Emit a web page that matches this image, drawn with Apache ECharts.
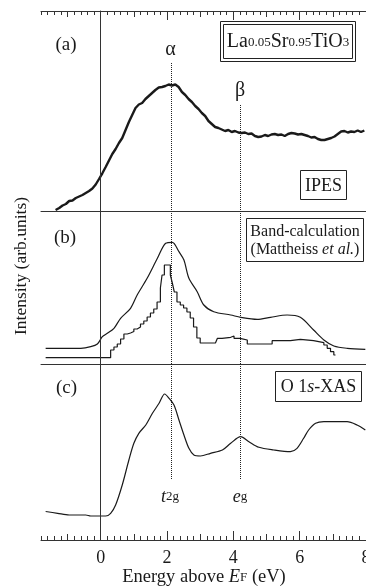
<!DOCTYPE html>
<html>
<head>
<meta charset="utf-8">
<script src="https://cdn.jsdelivr.net/npm/echarts@6/dist/echarts.min.js"></script>
<style>
  html, body { margin: 0; padding: 0; background: #fff; }
  #chart { width: 366px; height: 588px; }
</style>
</head>
<body>
<div id="chart"></div>
<script>
// energy (eV), intensity (arb.)
const ipes = [
  [-1.36, 1], [-1.25, 3], [-1.15, 5.5], [-1.05, 7], [-0.95, 10], [-0.85, 10.5], [-0.75, 13],
  [-0.65, 14.5], [-0.55, 16], [-0.45, 18], [-0.35, 20], [-0.25, 22.5], [-0.15, 26.5], [-0.05, 32],
  [0.05, 37.7], [0.15, 44], [0.25, 50.5], [0.35, 57], [0.45, 62], [0.55, 68], [0.65, 73],
  [0.75, 81], [0.85, 89], [0.95, 96], [1.05, 103], [1.15, 106.5], [1.25, 108], [1.35, 112],
  [1.45, 115], [1.55, 118], [1.65, 121], [1.75, 123.5], [1.85, 124], [1.95, 125], [2.05, 126.5],
  [2.15, 125.5], [2.25, 126.5], [2.35, 124], [2.45, 119], [2.55, 116], [2.65, 112], [2.75, 109],
  [2.85, 105], [2.95, 102], [3.05, 98], [3.15, 95], [3.25, 90], [3.35, 87], [3.45, 84],
  [3.55, 83], [3.65, 81.5], [3.75, 80], [3.85, 81], [3.95, 79], [4.05, 80], [4.15, 78.5],
  [4.25, 78], [4.35, 78.5], [4.45, 77], [4.55, 77.5], [4.65, 75], [4.75, 74], [4.85, 74.5],
  [4.95, 76], [5.05, 75], [5.15, 76.5], [5.25, 77], [5.35, 76], [5.45, 76.5], [5.55, 75],
  [5.65, 77], [5.75, 78], [5.85, 77.5], [5.95, 76.5], [6.05, 77], [6.15, 76], [6.25, 75],
  [6.35, 73.5], [6.45, 74], [6.55, 72], [6.65, 71], [6.75, 71], [6.85, 72], [6.95, 73],
  [7.05, 74.5], [7.15, 77], [7.25, 79.5], [7.35, 80], [7.45, 78.5], [7.55, 79.5], [7.65, 79],
  [7.75, 80.5], [7.85, 79], [7.95, 80.5]
];

const bandSmooth = [
  [-1.66, 15.7], [-0.6, 15.7], [-0.3, 17.3], [-0.1, 20], [0.05, 27.3], [0.2, 30.7], [0.4, 35.7],
  [0.6, 45.7], [0.9, 55.7], [1.1, 69], [1.4, 85.7], [1.71, 105.7], [1.96, 120.7], [2.16, 121.7],
  [2.36, 112.3], [2.51, 104], [2.66, 85.7], [2.91, 72.3], [3.11, 59], [3.41, 52.3], [3.92, 49],
  [4.22, 46.7], [4.72, 44.7], [5.12, 46.7], [5.62, 49], [6.02, 46.7], [6.42, 34], [6.73, 24],
  [7.03, 18], [7.43, 15.7], [7.98, 14.7]
];

// histogram: [left edge of bin, level]
const bandStep = [
  [-1.66, 6.3], [0.30, 14], [0.40, 17], [0.50, 20], [0.60, 25], [0.70, 30], [0.80, 31],
  [0.90, 32.5], [1.00, 35], [1.10, 37], [1.20, 40], [1.30, 43], [1.40, 47], [1.50, 51],
  [1.60, 55], [1.70, 62], [1.80, 76], [1.85, 89], [1.92, 99], [2.10, 89], [2.16, 81],
  [2.22, 72], [2.30, 62], [2.40, 59], [2.50, 56], [2.60, 52], [2.70, 46], [2.80, 37],
  [2.90, 26], [3.00, 21], [3.46, 23], [3.52, 25.7], [3.66, 26.7], [3.92, 28], [4.02, 25.7],
  [4.20, 24], [4.42, 20], [5.17, 23.3], [5.72, 24.7], [6.02, 23.3], [6.42, 21.3], [6.73, 19],
  [6.83, 15.7], [6.93, 12.3], [7.03, 9], [7.08, 9]
];

const xas = [
  [-1.66, 28.5], [-1.3, 26.7], [-0.95, 25], [-0.45, 25], [-0.3, 24], [0.15, 24], [0.3, 26.7],
  [0.45, 35], [0.65, 55], [0.85, 80], [1.0, 96.7], [1.15, 106.7], [1.36, 115], [1.56, 126.7],
  [1.76, 136.7], [1.93, 146], [2.06, 141.7], [2.21, 135], [2.36, 120], [2.51, 105], [2.66, 91.7],
  [2.81, 85], [3.01, 84], [3.31, 86.7], [3.67, 90], [3.92, 96.7], [4.22, 103.3], [4.47, 98.3],
  [4.77, 92.7], [5.22, 90], [5.72, 88.3], [5.92, 91.7], [6.12, 101.7], [6.27, 110], [6.48, 116.7],
  [6.73, 118.3], [7.43, 118.3], [7.73, 115], [7.98, 110]
];

const tickLabels = [0, 2, 4, 6, 8];
const midTicks = [-1, 1, 3, 5, 7];
const alphaE = 2.12;
const betaE = 4.22;

const FONT = '"Liberation Serif", "DejaVu Serif", serif';
const INK = '#1a1a1a';
const AXIS = '#333';

let chart = echarts.init(document.getElementById('chart'));

function xAx(grid, pos, extra) {
  return Object.assign({
    type: 'value', gridIndex: grid, position: pos, min: -1.8, max: 8,
    axisLine: { show: true, lineStyle: { color: AXIS, width: 1 } },
    axisTick: { show: false },
    axisLabel: { show: false },
    splitLine: { show: false }
  }, extra);
}
function yAx(grid, max) {
  return {
    type: 'value', gridIndex: grid, min: 0, max: max,
    axisLine: { show: true, lineStyle: { color: AXIS, width: 1 } },
    axisTick: { show: false }, axisLabel: { show: false }, splitLine: { show: false }
  };
}
const shortTick = { axisTick: { show: true, inside: true, interval: 0, length: 4, lineStyle: { color: AXIS } }, interval: 0.2 };
const midTick = { axisLine: { show: false }, axisTick: { show: true, inside: true, length: 6, customValues: midTicks, lineStyle: { color: AXIS } } };
const tallTick = { axisLine: { show: false }, axisTick: { show: true, inside: true, length: 9, customValues: tickLabels, lineStyle: { color: AXIS } } };

const zeroLine = { xAxis: 0, lineStyle: { type: 'solid', color: AXIS, width: 1 } };
const dotted = { type: 'dotted', color: '#222', width: 1 };

function mk(data) {
  return { symbol: 'none', silent: true, label: { show: false }, data: data };
}

function txt(x, y, text, size, rich, extra) {
  return Object.assign({
    type: 'text', x: x, y: y, silent: true,
    style: {
      text: text, fill: INK, font: size + 'px ' + FONT,
      align: 'center', verticalAlign: 'middle', rich: rich || {}
    }
  }, extra);
}
function box(x, y, w, h) {
  return { type: 'rect', silent: true, shape: { x: x, y: y, width: w, height: h },
    style: { fill: 'none', stroke: '#222', lineWidth: 1 } };
}
// small characters sitting on the big text's baseline
function big(size, italic) {
  return { fontSize: size, fontFamily: FONT, fontStyle: italic ? 'italic' : 'normal', fill: INK, verticalAlign: 'bottom' };
}
function small(size, lift) {
  return { fontSize: size, fontFamily: FONT, fill: INK, verticalAlign: 'bottom', padding: [0, 0, lift, 0] };
}

const grids = [
  { left: 41, right: 0, top: 11, height: 200 },
  { left: 41, right: 0, top: 211, height: 153 },
  { left: 41, right: 0, top: 364, height: 176 }
].map(g => Object.assign(g, { outerBoundsMode: 'none', containLabel: false }));

let option = {
  backgroundColor: '#fff',
  animation: false,
  grid: grids,
  xAxis: [
    xAx(0, 'bottom', {}),
    xAx(0, 'top', shortTick),
    xAx(0, 'top', midTick),
    xAx(0, 'top', tallTick),
    xAx(1, 'bottom', {}),
    xAx(2, 'bottom', shortTick),
    xAx(2, 'bottom', midTick),
    xAx(2, 'bottom', Object.assign({}, tallTick, {
      axisLabel: { show: true, customValues: tickLabels, margin: 9, color: INK, fontSize: 18, fontFamily: FONT }
    }))
  ],
  yAxis: [yAx(0, 200), yAx(1, 153), yAx(2, 176)],
  series: [
    {
      name: 'IPES', type: 'line', xAxisIndex: 0, yAxisIndex: 0, data: ipes,
      symbol: 'none', lineStyle: { color: INK, width: 2.4 },
      markLine: mk([
        zeroLine,
        [{ coord: [alphaE, 148], lineStyle: dotted }, { coord: [alphaE, 0] }],
        [{ coord: [betaE, 106], lineStyle: dotted }, { coord: [betaE, 0] }]
      ])
    },
    {
      name: 'band', type: 'line', xAxisIndex: 4, yAxisIndex: 1, data: bandSmooth,
      symbol: 'none', smooth: 0.3, lineStyle: { color: INK, width: 1.2 },
      markLine: mk([
        zeroLine,
        { xAxis: alphaE, lineStyle: dotted },
        { xAxis: betaE, lineStyle: dotted }
      ])
    },
    {
      name: 'bandStep', type: 'line', xAxisIndex: 4, yAxisIndex: 1, data: bandStep,
      symbol: 'none', step: 'end', lineStyle: { color: INK, width: 1.2 }
    },
    {
      name: 'XAS', type: 'line', xAxisIndex: 5, yAxisIndex: 2, data: xas,
      symbol: 'none', smooth: 0.3, lineStyle: { color: INK, width: 1.2 },
      markLine: mk([
        zeroLine,
        [{ coord: [alphaE, 176], lineStyle: dotted }, { coord: [alphaE, 60] }],
        [{ coord: [betaE, 176], lineStyle: dotted }, { coord: [betaE, 60] }]
      ])
    }
  ],
  graphic: [
    txt(66, 45, '(a)', 19),
    txt(170.5, 50, 'α', 20),
    txt(240, 91, 'β', 20),
    box(220.5, 21.5, 135, 40),
    box(223.5, 24.5, 129, 34),
    txt(288, 42, '{b|La}{s|0.05}{b|Sr}{s|0.95}{b|TiO}{s|3}', 20, { b: big(20), s: small(13, 3) }),
    box(300.5, 170.5, 46, 29),
    txt(323.5, 186, 'IPES', 18),
    txt(65, 238, '(b)', 19),
    box(246.5, 218.5, 117, 43),
    txt(305, 231.5, 'Band-calculation', 16),
    txt(305, 250, '(Mattheiss {i|et al.})', 16, {
      i: { fontSize: 16, fontFamily: FONT, fontStyle: 'italic', fill: INK }
    }),
    txt(66.5, 388, '(c)', 19),
    box(275.5, 371.5, 86, 30),
    txt(318.5, 387, 'O 1{i|s}-XAS', 18, {
      i: { fontSize: 18, fontFamily: FONT, fontStyle: 'italic', fill: INK }
    }),
    txt(170, 497, '{i|t}{s|2g}', 18, { i: big(18, true), s: small(13, 2.5) }),
    txt(240, 497, '{i|e}{s|g}', 18, { i: big(18, true), s: small(13, 2.5) }),
    txt(204, 577, '{n|Energy above }{i|E}{s|F}{n| (eV)}', 18.5, {
      n: big(18.5), i: big(18.5, true), s: small(13, 2.5)
    }),
    txt(21, 266, 'Intensity (arb.units)', 17.5, null, { rotation: Math.PI / 2 })
  ]
};

chart.setOption(option);
</script>
</body>
</html>
